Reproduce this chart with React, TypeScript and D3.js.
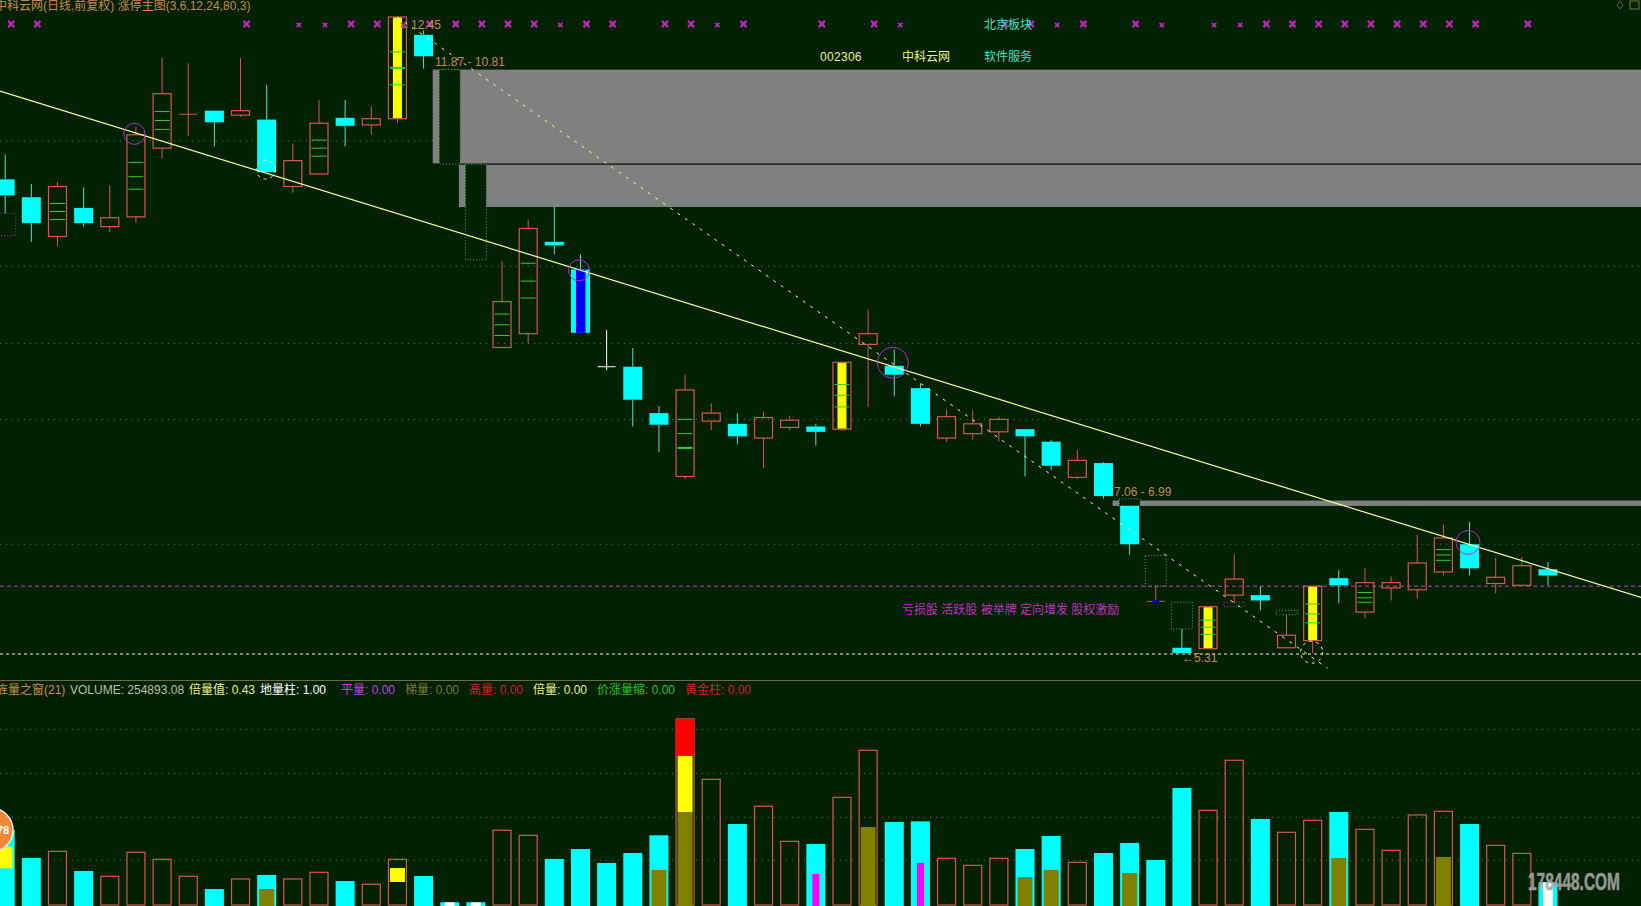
import * as d3 from 'd3';

const WIDTH = 1641;
const HEIGHT = 906;

// K线（索引 0-59），17、18 两根只有虚线框
const opens = [10.63, 10.43, 9.99, 10.31, 10.10, 10.21, 10.98, 11.36, 11.40, 11.35, 11.30, 10.55, 10.69, 11.32, 11.24, 11.31, 12.25, NaN, NaN, 8.745, 8.90, 9.93, 9.62, 8.53, 8.53, 8.01, 7.30, 7.92, 7.89, 7.73, 7.85, 7.86, 7.83, 8.78, 8.54, 8.29, 7.73, 7.78, 7.80, 7.83, 7.69, 7.29, 7.45, 6.97, 5.90, 5.38, 5.37, 5.97, 5.97, 5.38, 5.46, 6.16, 5.78, 6.05, 6.03, 6.23, 6.54, 6.10, 6.08, 6.26];
const closes = [10.45, 10.14, 10.55, 10.14, 10.20, 11.13, 11.59, 11.36, 11.27, 11.40, 10.71, 10.84, 11.26, 11.23, 11.31, 12.45, 12.01, NaN, NaN, 9.26, 10.08, 9.89, 8.91, 8.53, 8.16, 7.88, 8.27, 8.01, 7.75, 7.96, 7.93, 7.80, 8.58, 8.90, 8.44, 7.89, 7.97, 7.89, 7.94, 7.75, 7.42, 7.48, 7.08, 6.54, 5.90, 5.32, 5.84, 6.15, 5.91, 5.52, 6.07, 6.08, 6.11, 6.11, 6.33, 6.61, 6.27, 6.17, 6.30, 6.19];
const highs = [10.91, 10.58, 10.60, 10.54, 10.56, 11.22, 11.99, 11.93, 11.40, 11.99, 11.69, 11.03, 11.52, 11.52, 11.45, 12.45, 12.30, NaN, NaN, 9.71, 10.18, 10.32, 9.79, 8.94, 8.74, 8.09, 8.44, 8.12, 8.01, 8.03, 7.98, 7.89, 8.58, 9.17, 8.72, 8.34, 8.05, 8.04, 7.97, 7.83, 7.71, 7.60, 7.46, 6.97, 6.07, 5.59, 5.84, 6.43, 6.07, 5.75, 6.07, 6.25, 6.27, 6.18, 6.65, 6.76, 6.79, 6.39, 6.40, 6.34];
const lows = [10.25, 9.93, 9.88, 10.10, 10.04, 10.14, 10.86, 11.12, 11.00, 11.33, 10.71, 10.48, 10.69, 11.00, 11.13, 11.26, 11.87, NaN, NaN, 8.745, 8.79, 9.79, 8.91, 8.49, 7.86, 7.57, 7.27, 7.82, 7.66, 7.39, 7.82, 7.65, 7.81, 8.08, 8.20, 7.86, 7.69, 7.71, 7.69, 7.30, 7.37, 7.27, 7.05, 6.42, 5.88, 5.32, 5.37, 5.88, 5.80, 5.38, 5.32, 5.88, 5.71, 5.91, 5.93, 6.19, 6.19, 5.99, 6.08, 6.08];

const yellowBodies = [15, 32, 46, 50];
const blueBodies = [22];
const whiteCandles = [23];
const blueDots = [44];

// 阳线里的绿色横杠
const bodyTicks: [number, number, number[]][] = [
  [2, 1, [10.36, 10.27, 10.18]],
  [5, 1, [10.82, 10.66, 10.52]],
  [6, 1, [11.39, 11.29, 11.19]],
  [12, 1, [11.07, 10.98, 10.89]],
  [15, 1, [12.06, 11.69]],
  [15, 2, [11.88]],
  [19, 1, [9.12, 9.0, 8.88]],
  [20, 1, [9.69, 9.49, 9.30]],
  [26, 1, [7.94, 7.78]],
  [26, 2, [7.62]],
  [32, 1, [8.33, 8.21, 8.08]],
  [46, 1, [5.69, 5.61, 5.53]],
  [50, 1, [5.87, 5.76, 5.66]],
  [52, 1, [6.00, 5.94, 5.89]],
  [55, 1, [6.48, 6.42, 6.36]],
];

// 缺口虚线框 [索引, 上沿, 下沿, 颜色]
const dottedBoxes: [number, number, number, string][] = [
  [0, 10.25, 10.0, '#b030b0'],
  [17, 11.86, 10.80, '#35c045'],
  [18, 10.80, 9.73, '#35c045'],
  [43, 7.05, 6.97, '#35c045'],
  [44, 6.415, 6.07, '#35c045'],
  [45, 5.89, 5.59, '#35c045'],
  [47, 5.89, 5.84, '#b030b0'],
  [49, 5.80, 5.75, '#35c045'],
];

// 压力带 [起始索引, 上沿, 下沿]
const gapBands: [number, number, number][] = [
  [17, 11.86, 10.80],
  [18, 10.80, 10.32],
  [43, 7.03, 6.97],
];

const priceGrid = [11.06, 9.655, 8.79, 7.94, 6.54];
const magentaLevel = 6.07;
const lowLevel = 5.31;

const trendLine: [number, number][] = [[-0.2, 11.62], [62.6, 5.94]];
const dashTrendLine: [number, number][] = [[15, 12.45], [50.57, 5.15]];

const magentaCircles: [number, number, number][] = [[5, 11.14, 10.5], [22, 9.61, 10.5], [34, 8.574, 15.5], [56, 6.56, 12]];
const dashCircles: [number, number, number][] = [[10, 10.74, 9.5], [50, 5.33, 11]];

const bigMarks = [0, 1, 9, 13, 14, 16, 17, 18, 19, 20, 22, 23, 25, 26, 28, 31, 33, 38, 39, 41, 43, 48, 49, 50, 51, 52, 53, 54, 55, 56, 58];
const smallMarks = [11, 12, 15, 21, 27, 34, 40, 44, 46, 47];

// 成交量（万手）
const volumes = [84.4, 52.9, 60.4, 38.3, 32.3, 59.3, 51.4, 32.3, 18, 29.3, 33.8, 29.3, 36.8, 27, 23.3, 51.4, 32.6, 3, 3, 84, 78.4, 51.8, 63, 47.3, 58.5, 78.4, 209.3, 141.4, 91.1, 111, 71.6, 68.6, 121.1, 174, 93.4, 94.1, 52.5, 44.6, 52.5, 63, 77.6, 48, 58.5, 69.8, 50.6, 131.6, 106.5, 162.8, 96.8, 81.8, 95.3, 104.6, 85.1, 61.5, 101.3, 105.4, 91.1, 67.1, 58.1, 25.5];
const volUp = [2, 4, 5, 6, 7, 9, 11, 12, 14, 15, 19, 20, 26, 27, 29, 30, 32, 33, 36, 37, 38, 41, 46, 47, 49, 50, 52, 53, 54, 55, 57, 58];
const volOlive: [number, number][] = [[10, 18], [25, 39.4], [26, 104.6], [33, 87.8], [39, 31.5], [40, 39.4], [43, 36], [51, 52.9], [55, 54]];
const volMagenta: [number, number][] = [[31, 34.9], [35, 47.3]];
const volWhite: [number, number][] = [[17, 3], [18, 3], [59, 25.5]];
const volYellow: [number, number, number][] = [[0, 65.6, 41.3], [15, 41.6, 25.9], [26, 167.6, 104.6]];
const volRedTop: [number, number, number][] = [[26, 209.3, 167.6]];
const volGrid = [50.3, 98.6, 148, 197.6];

const volHeader: [string, number, string][] = [
  ['旌量之窗(21)', -4, '#d08a50'],
  ['VOLUME: 254893.08', 70, '#b8c0a8'],
  ['倍量值: 0.43', 189, '#f0f080'],
  ['地量柱: 1.00', 260, '#ffffff'],
  ['平量: 0.00', 341, '#c040e0'],
  ['梯量: 0.00', 405, '#7a7a30'],
  ['高量: 0.00', 469, '#d02020'],
  ['倍量: 0.00', 533, '#f0f080'],
  ['价涨量缩: 0.00', 597, '#30c030'],
  ['黄金柱: 0.00', 685, '#d02020'],
];

const BG = '#022002';
const RED = '#d9584c';
const CYAN = '#00ffff';
const CYAN_WICK = '#55e0d0';
const GREEN = '#33cc33';
const TAN = '#c98a50';
const FONT = '"Liberation Sans", "Noto Sans CJK SC", sans-serif';

const x = d3.scaleLinear().domain([0, 59]).range([5.2, 1548]);
const y = d3.scaleLinear().domain([12.45, 5.31]).range([17, 654]);
const yVol = d3.scaleLinear().domain([0, 200]).range([905, 727.2]);

const BODY_W = 18;
const line = d3.line<[number, number]>().x(d => x(d[0])).y(d => y(d[1]));
const markPath = (size: number) => d3.symbol(d3.symbolTimes, size)() as string;

function Candle({ i }: { i: number }) {
  const o = opens[i];
  const c = closes[i];
  if (Number.isNaN(o)) return null;
  const cx = x(i);
  const up = c >= o;
  const white = whiteCandles.includes(i);
  const wick = white ? '#ffffff' : up ? RED : CYAN_WICK;
  const top = y(Math.max(o, c));
  const bottom = y(Math.min(o, c));
  const doji = bottom - top < 1;
  return (
    <g>
      <line x1={cx} x2={cx} y1={y(highs[i])} y2={top} stroke={wick} />
      <line x1={cx} x2={cx} y1={bottom} y2={y(lows[i])} stroke={wick} />
      {doji ? (
        <line x1={cx - BODY_W / 2} x2={cx + BODY_W / 2} y1={top} y2={top} stroke={wick} />
      ) : up ? (
        <rect x={cx - BODY_W / 2} y={top} width={BODY_W} height={bottom - top} fill="none" stroke={RED} strokeWidth={1.2} />
      ) : (
        <rect x={cx - BODY_W / 2 - 0.5} y={top} width={BODY_W + 1} height={bottom - top} fill={CYAN} />
      )}
      {yellowBodies.includes(i) && <rect x={cx - 4.5} y={top + 0.6} width={9} height={bottom - top - 1.2} fill="#ffff00" />}
      {blueBodies.includes(i) && <rect x={cx - 4.5} y={top} width={9.5} height={bottom - top} fill="#0000f0" />}
      {blueDots.includes(i) && <rect x={cx - 3.5} y={top - 1} width={7} height={3} fill="#0000c0" />}
    </g>
  );
}

export default function App() {
  const rows = d3.range(60);
  return (
    <svg
      width={WIDTH}
      height={HEIGHT}
      style={{ position: 'fixed', left: 0, top: 0, background: BG, fontFamily: FONT }}
    >
      {/* 网格 */}
      {priceGrid.map(p => (
        <line key={p} x1={0} x2={WIDTH} y1={y(p)} y2={y(p)} stroke="#4f7a4a" strokeDasharray="1,5" />
      ))}
      {volGrid.map(v => (
        <line key={v} x1={0} x2={WIDTH} y1={yVol(v)} y2={yVol(v)} stroke="#4f7a4a" strokeDasharray="1,5" />
      ))}

      {/* 压力带 */}
      {gapBands.map(([i, top, bottom]) => (
        <rect key={i} x={x(i) - 17} y={y(top)} width={WIDTH} height={y(bottom) - y(top) - (i === 17 ? 0.6 : 0)} fill="#808080" />
      ))}
      <line x1={x(17) - 17} x2={WIDTH} y1={y(10.8)} y2={y(10.8)} stroke="#0a1a0a" />

      {dottedBoxes.map(([i, top, bottom, color]) => (
        <rect
          key={i}
          x={x(i) - 10.5}
          y={y(top)}
          width={21}
          height={y(bottom) - y(top)}
          fill={BG}
          stroke={color}
          strokeDasharray="1,2"
        />
      ))}

      {/* 水平参考线 */}
      <line x1={0} x2={WIDTH} y1={y(magentaLevel)} y2={y(magentaLevel)} stroke="#c040c0" strokeDasharray="4,3" />
      <line x1={0} x2={WIDTH} y1={y(lowLevel)} y2={y(lowLevel)} stroke="#f4f4c0" strokeDasharray="3,3" />

      {/* K线 */}
      {rows.map(i => <Candle key={i} i={i} />)}
      {bodyTicks.map(([i, w, ps]) =>
        ps.map(p => (
          <line key={`${i}-${p}`} x1={x(i) - 7.5} x2={x(i) + 7.5} y1={y(p)} y2={y(p)} stroke={GREEN} strokeWidth={w} />
        )),
      )}

      {/* 趋势线 */}
      <path d={line(dashTrendLine) ?? ''} fill="none" stroke="#ffff90" strokeDasharray="3,6" />
      <path d={line(trendLine) ?? ''} fill="none" stroke="#ffff99" strokeWidth={1.2} />

      {magentaCircles.map(([i, p, r]) => (
        <circle key={i} cx={x(i) - 1.5} cy={y(p)} r={r} fill="none" stroke="#b030d0" />
      ))}
      {dashCircles.map(([i, p, r]) => (
        <circle key={i} cx={x(i) - 1} cy={y(p)} r={r} fill="none" stroke="#ffffb0" strokeDasharray="3,4" />
      ))}

      {/* 顶部的叉号 */}
      {bigMarks.map(i => (
        <path key={i} d={markPath(26)} transform={`translate(${x(i) + 6},24)`} stroke="#b828b8" strokeWidth={2.4} fill="none" />
      ))}
      {smallMarks.map(i => (
        <path key={i} d={markPath(14)} transform={`translate(${x(i) + 6},25)`} stroke="#b828b8" strokeWidth={1.8} fill="none" />
      ))}

      {/* 主图文字 */}
      <text x={-5} y={10} fontSize={12} fill={TAN}>中科云网(日线,前复权) 涨停主图(3,6,12,24,80,3)</text>
      <text x={399} y={29} fontSize={12} fill={TAN}>←12.45</text>
      <text x={435} y={66} fontSize={12} fill={TAN}>11.87 - 10.81</text>
      <text x={1114} y={496} fontSize={12} fill={TAN}>7.06 - 6.99</text>
      <text x={1182} y={661.5} fontSize={12} fill={TAN}>←5.31</text>
      <text x={984} y={29} fontSize={12} fill="#40e0c8">北京板块</text>
      <text x={820} y={61} fontSize={12} letterSpacing={0.3} fill="#f0f080">002306</text>
      <text x={902} y={61} fontSize={12} fill="#f0f080">中科云网</text>
      <text x={984} y={61} fontSize={12} fill="#40e0c8">软件服务</text>
      <text x={902} y={614} fontSize={12} fill="#c030c0">亏损股 活跃股 被举牌 定向增发 股权激励</text>
      <path d="M1620,1 L1623,5 L1620,9 L1617,5 Z" fill="none" stroke="#5a6a3a" />
      <rect x={1630} y={1} width={9} height={8} fill="none" stroke="#7a7a30" />

      {/* 分隔线和副图标题 */}
      <line x1={0} x2={WIDTH} y1={680.5} y2={680.5} stroke="#6b6b45" />
      {volHeader.map(([label, tx, color]) => (
        <text key={label} x={tx} y={693.5} fontSize={12} fill={color}>{label}</text>
      ))}

      {/* 成交量 */}
      {rows.map(i => {
        const cx = x(i);
        const top = yVol(volumes[i]);
        return volUp.includes(i) ? (
          <rect key={i} x={cx - 9} y={top} width={18} height={905 - top} fill="none" stroke={RED} strokeWidth={1.2} />
        ) : (
          <rect key={i} x={cx - 9.5} y={top} width={19} height={906 - top} fill={CYAN} />
        );
      })}
      {volOlive.map(([i, v]) => (
        <rect key={i} x={x(i) - 7.5} y={yVol(v)} width={15} height={906 - yVol(v)} fill="#808000" />
      ))}
      {volMagenta.map(([i, v]) => (
        <rect key={i} x={x(i) - 3.5} y={yVol(v)} width={7} height={906 - yVol(v)} fill="#ff00ff" />
      ))}
      {volWhite.map(([i, v]) => (
        <rect key={i} x={x(i) - 5} y={yVol(v)} width={10} height={906 - yVol(v)} fill="#ffffff" />
      ))}
      {volYellow.map(([i, a, b]) => (
        <rect key={i} x={x(i) - 7.5} y={yVol(a)} width={15} height={yVol(b) - yVol(a)} fill="#ffff00" />
      ))}
      {volRedTop.map(([i, a, b]) => (
        <rect key={i} x={x(i) - 9.5} y={yVol(a)} width={19} height={yVol(b) - yVol(a)} fill="#ff0000" />
      ))}

      {/* 水印 */}
      <circle cx={-9} cy={830} r={22} fill="#f08838" stroke="#f8e8d8" strokeWidth={1.5} />
      <text x={-3} y={834} fontSize={11} fontWeight="bold" fill="#ffffff">78</text>
      <text
        x={1528}
        y={890}
        fontSize={24}
        fontWeight="bold"
        fill="#a8a8a8"
        stroke="#a0a0a0"
        strokeWidth={0.6}
        opacity={0.9}
        textLength={92}
        lengthAdjust="spacingAndGlyphs"
      >
        178448.COM
      </text>
    </svg>
  );
}
